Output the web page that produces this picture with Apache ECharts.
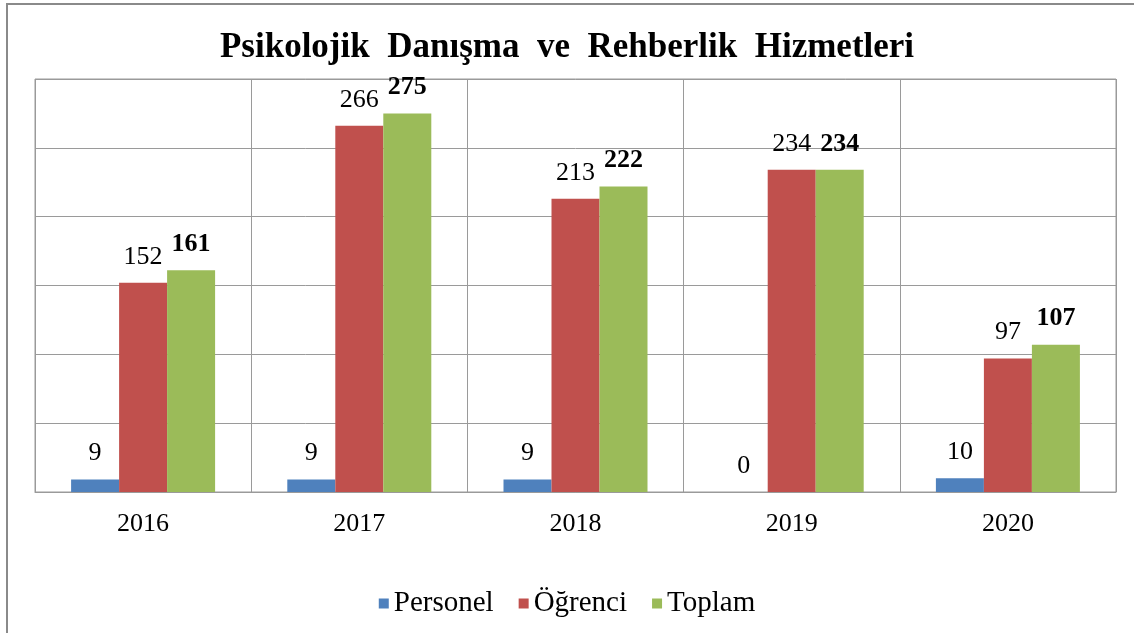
<!DOCTYPE html>
<html>
<head>
<meta charset="utf-8">
<script src="https://cdn.jsdelivr.net/npm/echarts@6/dist/echarts.min.js"></script>
<style>
html,body{margin:0;padding:0;background:#fff;}
#main{width:1134px;height:633px;}
</style>
</head>
<body>
<div id="main"></div>
<script>
const years = ['2016', '2017', '2018', '2019', '2020'];
const personel = [9, 9, 9, 0, 10];
const ogrenci = [152, 266, 213, 234, 97];
const toplam = [161, 275, 222, 234, 107];

const serif = '"Liberation Serif", "Times New Roman", serif';
let chart = echarts.init(document.getElementById('main'));

//ortak etiket ayari
function label(bold){
    return {
        show: true,
        position: 'top',
        distance: 13,
        color: '#000',
        fontFamily: serif,
        fontSize: 26,
        fontWeight: bold ? 'bold' : 'normal'
    };
}

let option = {
    animation: false,
    title: {
        text: 'Psikolojik  Danışma  ve  Rehberlik  Hizmetleri',
        left: 'center',
        top: 25,
        textStyle: {
            fontFamily: serif,
            fontSize: 35,
            fontWeight: 'bold',
            color: '#000'
        }
    },
    graphic: [{
        type: 'rect',
        shape: {x: 7, y: 4, width: 1300, height: 800},
        style: {fill: 'none', stroke: '#8a8a8a', lineWidth: 2}
    }],
    legend: {
        data: ['Personel', 'Öğrenci', 'Toplam'],
        left: 'center',
        top: 584,
        icon: 'rect',
        itemWidth: 10,
        itemHeight: 10,
        itemGap: 25,
        textStyle: {fontFamily: serif, fontSize: 29, color: '#000'}
    },
    grid: {
        left: 35,
        right: 18,
        top: 79,
        bottom: 141,
        show: true,
        borderColor: '#9a9a9a',
        borderWidth: 1
    },
    xAxis: {
        type: 'category',
        data: years,
        axisTick: {show: false},
        axisLine: {lineStyle: {color: '#9a9a9a'}},
        splitLine: {show: true, lineStyle: {color: '#9a9a9a'}},
        axisLabel: {
            color: '#000',
            fontFamily: serif,
            fontSize: 26,
            margin: 19
        }
    },
    yAxis: {
        type: 'value',
        min: 0,
        max: 300,
        interval: 50,
        axisLabel: {show: false},
        axisLine: {show: false},
        axisTick: {show: false},
        splitLine: {lineStyle: {color: '#9a9a9a'}}
    },
    series: [
        {
            name: 'Personel',
            type: 'bar',
            data: personel,
            barWidth: 48,
            barGap: '0%',
            itemStyle: {color: '#4F81BD'},
            label: label(false)
        },
        {
            name: 'Öğrenci',
            type: 'bar',
            data: ogrenci,
            barWidth: 48,
            barGap: '0%',
            itemStyle: {color: '#C0504D'},
            label: label(false)
        },
        {
            name: 'Toplam',
            type: 'bar',
            data: toplam,
            barWidth: 48,
            barGap: '0%',
            itemStyle: {color: '#9BBB59'},
            label: label(true)
        }
    ]
};
chart.setOption(option);
</script>
</body>
</html>
